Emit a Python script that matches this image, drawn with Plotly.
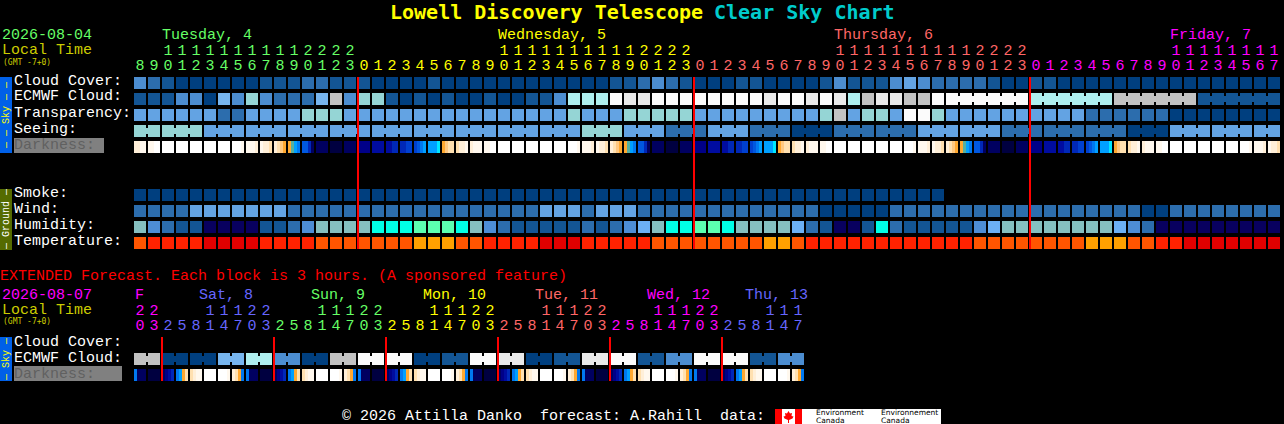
import plotly.graph_objects as go

# forecast hours, one per column
hours = [8, 9, 10, 11, 12, 13, 14, 15, 16, 17, 18, 19, 20, 21, 22, 23,
         0, 1, 2, 3, 4, 5, 6, 7, 8, 9, 10, 11, 12, 13, 14, 15, 16, 17, 18, 19, 20, 21, 22, 23,
         0, 1, 2, 3, 4, 5, 6, 7, 8, 9, 10, 11, 12, 13, 14, 15, 16, 17, 18, 19, 20, 21, 22, 23,
         0, 1, 2, 3, 4, 5, 6, 7, 8, 9, 10, 11, 12, 13, 14, 15, 16, 17]
ext_hours = [20, 23, 2, 5, 8, 11, 14, 17, 20, 23, 2, 5, 8, 11, 14, 17, 20, 23, 2, 5, 8, 11, 14, 17,
             20, 23, 2, 5, 8, 11, 14, 17, 20, 23, 2, 5, 8, 11, 14, 17, 20, 23, 2, 5, 8, 11, 14, 17]

# sky levels, index into sky_palette
cloud_cover = [3, 2, 1, 0, 0, 0, 0, 0, 0, 1, 1, 1, 2, 2, 1, 1,
               1, 0, 0, 0, 0, 1, 0, 0, 0, 0, 0, 0, 0, 0, 0, 0, 0, 0, 1, 1, 2, 3, 2, 1,
               0, 0, 0, 1, 1, 0, 0, 0, 0, 1, 3, 1, 1, 1, 3, 4, 3, 2, 2, 2, 2, 1, 0, 0,
               1, 1, 0, 0, 0, 0, 0, 0, 0, 0, 0, 0, 0, 0, 0, 0, 0, 0]
ecmwf_cloud = [1, 1, 1, 3, 3, 0, 5, 3, 6, 3, 2, 2, 2, 5, 8, 3,
               6, 6, 1, 0, 1, 0, 1, 0, 0, 1, 0, 0, 1, 1, 3, 7, 7, 7, 10, 9, 9, 10, 10, 10,
               10, 10, 10, 10, 10, 9, 10, 10, 9, 10, 9, 7, 8, 9, 9, 8, 8, 10, 10, 10, 10, 10, 10, 10,
               7, 7, 7, 7, 7, 7, 8, 8, 8, 8, 8, 8, 1, 1, 1, 1, 1, 1]
transparency = [4, 4, 4, 4, 4, 4, 2, 2, 4, 4, 4, 4, 6, 6, 6, 4,
                4, 4, 4, 4, 4, 4, 4, 4, 4, 4, 4, 4, 4, 4, 4, 6, 4, 4, 4, 6, 6, 6, 6, 6,
                4, 4, 4, 4, 4, 4, 4, 4, 4, 6, 8, 4, 6, 6, 4, 10, 10, 6, 4, 4, 4, 4, 4, 4,
                4, 4, 4, 4, 2, 2, 2, 2, 2, 2, 0, 0, 0, 0, 0, 0, 0, 0]
seeing = [6, 6, 6, 6, 6, 4, 4, 4, 4, 4, 4, 4, 4, 4, 4, 4,
          4, 4, 4, 4, 4, 4, 4, 4, 4, 4, 4, 4, 4, 4, 4, 4, 6, 6, 6, 4, 4, 4, 2, 2,
          2, 4, 4, 4, 2, 2, 2, 0, 0, 0, 2, 2, 2, 2, 2, 2, 4, 4, 4, 4, 4, 4, 2, 2,
          2, 2, 2, 2, 2, 2, 2, 0, 0, 0, 4, 4, 4, 4, 4, 4, 4, 4]
smoke = [0, 0, 0, 0, 0, 0, 0, 0, 0, 0, 0, 0, 0, 0, 0, 0,
         0, 0, 0, 0, 0, 0, 0, 0, 0, 0, 0, 0, 0, 0, 0, 0, 0, 0, 0, 0, 0, 0, 0, 0,
         0, 0, 0, 0, 0, 0, 0, 0, 0, 0, 0, 0, 0, 0, 0, 0, 0, 0]
wind = [2, 2, 2, 2, 4, 4, 4, 4, 4, 4, 4, 2, 2, 2, 2, 2,
        2, 2, 2, 2, 2, 2, 2, 2, 2, 2, 2, 2, 2, 4, 4, 4, 2, 4, 4, 4, 2, 2, 2, 2,
        2, 2, 2, 2, 2, 2, 2, 2, 2, 0, 0, 0, 0, 0, 2, 2, 2, 2, 2, 2, 2, 2, 2, 2,
        2, 2, 2, 2, 2, 2, 2, 2, 0, 0, 2, 2, 2, 2, 2, 2, 2, 2]
humidity = [5, 3, 2, 1, 1, 0, 0, 0, 0, 1, 1, 2, 3, 5, 5, 5,
            5, 6, 6, 6, 7, 7, 7, 6, 5, 3, 2, 1, 1, 1, 1, 1, 2, 1, 2, 3, 4, 5, 6, 6,
            7, 7, 6, 5, 5, 5, 5, 4, 2, 1, 0, 0, 1, 6, 2, 1, 1, 1, 1, 1, 3, 4, 5, 5,
            5, 5, 5, 5, 5, 5, 4, 3, 2, 0, 0, 0, 0, 0, 0, 0, 0, 0]
temperature = [2, 1, 1, 1, 1, 0, 0, 0, 0, 1, 1, 1, 1, 2, 2, 2,
               2, 2, 2, 2, 3, 3, 3, 2, 2, 1, 1, 1, 1, 0, 0, 0, 1, 1, 1, 1, 1, 2, 2, 2,
               2, 2, 2, 2, 2, 3, 3, 2, 1, 1, 1, 1, 1, 1, 1, 1, 1, 1, 1, 1, 2, 2, 2, 2,
               2, 2, 2, 2, 3, 3, 3, 2, 2, 1, 1, 0, 0, 0, 0, 0, 0, 0]

# darkness, four readings across every block
darkness = [[2, 2, 1, 1], [1, 1, 0, 0], [0, 0, 0, 0], [0, 0, 0, 0], [0, 0, 0, 0], [0, 0, 0, 0], [0, 0, 0, 0], [0, 0, 0, 1],
            [1, 1, 1, 2], [1, 2, 2, 3], [2, 3, 4, 5], [5, 6, 8, 9], [10, 10, 12, 15], [15, 15, 15, 15], [16, 16, 16, 16], [15, 15, 15, 15],
            [14, 14, 14, 14], [13, 13, 13, 13], [13, 13, 12, 12], [12, 12, 11, 11], [11, 10, 9, 8], [8, 8, 8, 7], [5, 4, 3, 3], [3, 2, 2, 1],
            [2, 1, 1, 1], [1, 1, 0, 0], [0, 0, 0, 0], [0, 0, 0, 0], [0, 0, 0, 0], [0, 0, 0, 0], [0, 0, 0, 0], [0, 0, 0, 1],
            [1, 1, 1, 2], [1, 2, 2, 3], [2, 3, 4, 5], [5, 6, 8, 9], [10, 10, 12, 15], [15, 15, 15, 15], [16, 16, 16, 16], [15, 15, 15, 15],
            [14, 14, 14, 14], [13, 13, 13, 13], [13, 13, 12, 12], [12, 12, 11, 11], [11, 10, 9, 8], [8, 8, 8, 7], [5, 4, 3, 3], [3, 2, 2, 1],
            [2, 1, 1, 1], [1, 1, 0, 0], [0, 0, 0, 0], [0, 0, 0, 0], [0, 0, 0, 0], [0, 0, 0, 0], [0, 0, 0, 0], [0, 0, 0, 1],
            [1, 1, 1, 2], [1, 2, 2, 3], [2, 3, 4, 5], [5, 6, 8, 9], [10, 10, 12, 15], [15, 15, 15, 15], [16, 16, 16, 16], [15, 15, 15, 15],
            [14, 14, 14, 14], [13, 13, 13, 13], [13, 13, 12, 12], [12, 12, 11, 11], [11, 10, 9, 8], [8, 8, 8, 7], [5, 4, 3, 3], [3, 2, 2, 1],
            [2, 1, 1, 1], [1, 1, 0, 0], [0, 0, 0, 0], [0, 0, 0, 0], [0, 0, 0, 0], [0, 0, 0, 0], [0, 0, 0, 0], [0, 0, 0, 1],
            [1, 1, 1, 2], [1, 2, 2, 3]]

ext_ecmwf = [8, 8, 0, 0, 0, 0, 5, 5, 7, 7, 3, 3, 0, 0, 8, 8, 10, 10, 10, 10, 0, 0, 1, 1,
             10, 10, 9, 9, 0, 0, 1, 1, 9, 9, 10, 10, 1, 1, 3, 3, 10, 10, 10, 10, 1, 1, 3, 3]
ext_darkness = [[9, 15, 15, 15], [16, 16, 16, 16], [15, 14, 13, 12], [9, 8, 5, 3], [3, 2, 1, 1], [0, 0, 0, 0], [0, 0, 0, 1], [2, 3, 5, 9],
                [9, 15, 15, 15], [16, 16, 16, 16], [15, 14, 13, 12], [9, 8, 5, 3], [3, 2, 1, 1], [0, 0, 0, 0], [0, 0, 0, 1], [2, 3, 5, 9],
                [9, 15, 15, 15], [16, 16, 16, 16], [15, 14, 13, 12], [9, 8, 5, 3], [3, 2, 1, 1], [0, 0, 0, 0], [0, 0, 0, 1], [2, 3, 5, 9],
                [9, 15, 15, 15], [16, 16, 16, 16], [15, 14, 13, 12], [9, 8, 5, 3], [3, 2, 1, 1], [0, 0, 0, 0], [0, 0, 0, 1], [2, 3, 5, 9],
                [9, 15, 15, 15], [16, 16, 16, 16], [15, 14, 13, 12], [9, 8, 5, 3], [3, 2, 1, 1], [0, 0, 0, 0], [0, 0, 0, 1], [2, 3, 5, 9],
                [9, 15, 15, 15], [16, 16, 16, 16], [15, 14, 13, 12], [9, 8, 5, 3], [3, 2, 1, 1], [0, 0, 0, 0], [0, 0, 0, 1], [2, 3, 5, 9]]

row_names = ["Cloud Cover:", "ECMWF Cloud:", "Transparency:", "Seeing:", "Darkness:"]
ground_names = ["Smoke:", "Wind:", "Humidity:", "Temperature:"]
ext_names = ["Cloud Cover:", "ECMWF Cloud:", "Darkness:"]

# colours
sky_palette = ["#003f7f", "#135594", "#2c6dad", "#4c8dd0", "#63a3e3", "#77b5ee",
               "#95d5d5", "#aeeeee", "#c2c2c2", "#e9e9e9", "#fbfbfb"]
humidity_palette = ["#08005f", "#135594", "#2c6dad", "#4d8dd5", "#6cb0f5", "#85bfbf", "#00ffe6", "#5cffb0"]
temp_palette = ["#e00000", "#ff2200", "#ff5500", "#ffa000"]
dark_palette = ["#ffffff", "#fff8ee", "#ffefd8", "#ffe0b0", "#ffc880", "#ffa830", "#55b0a0", "#00e8ff", "#00a0ff",
                "#0078f0", "#0058e0", "#0040d0", "#0028b8", "#000ca0", "#000088", "#000060", "#000040"]
day_colors = ["#66ff66", "#ffff00", "#ff6666", "#ff00ff", "#6666ff"]
RED = "#ff0000"
TXT = "#cccc00"
MONO = "Liberation Mono"


def discrete(palette):
    n = len(palette)
    scale = []
    for i, c in enumerate(palette):
        scale.append([i / n, c])
        scale.append([(i + 1) / n, c])
    return scale


def px_x(x):
    return x / 1284


def px_y(y):
    return 1 - y / 424


def label(text, x, y, color="#ffffff", size=15, family=MONO, anchor="left", angle=0):
    fig.add_annotation(text=text, x=px_x(x), y=px_y(y), xref="paper", yref="paper", xanchor=anchor, yanchor="middle",
                       showarrow=False, borderpad=0, borderwidth=0, font=dict(family=family, size=size, color=color),
                       textangle=angle)


def box(x0, y0, x1, y1, color):
    fig.add_shape(type="rect", xref="paper", yref="paper", x0=px_x(x0), x1=px_x(x1), y0=px_y(y0), y1=px_y(y1),
                  fillcolor=color, line_width=0, layer="below")


def row_map(values, row, palette, xa, ya):
    fig.add_trace(go.Heatmap(z=[values], x=list(range(len(values))), y=[row], colorscale=discrete(palette),
                             zmin=-0.5, zmax=len(palette) - 0.5, xgap=2, ygap=4, showscale=False,
                             hoverinfo="skip", xaxis=xa, yaxis=ya))


def dark_map(values, row, xa, ya):
    # 3px steps inside each 12px block, an empty cell for the 2px gap
    edges = []
    z = []
    for i, block in enumerate(values):
        for k in range(5):
            edges.append(i - 0.5 + (1 + 3 * k) / 14)
        z.extend(block)
        if i < len(values) - 1:
            z.append(None)
    fig.add_trace(go.Heatmap(z=[z], x=edges, y=[row - 0.375, row + 0.375], colorscale=discrete(dark_palette),
                             zmin=-0.5, zmax=len(dark_palette) - 0.5, showscale=False,
                             hoverinfo="skip", xaxis=xa, yaxis=ya, hoverongaps=False))


def joins(values, groups, row, palette, xa, ya):
    # small bridge between the blocks of a merged period
    for first, last in groups:
        fig.add_trace(go.Scatter(x=[first, last], y=[row, row], mode="lines", hoverinfo="skip",
                                 line=dict(color=palette[values[first]], width=6), xaxis=xa, yaxis=ya))


def digits(hrs, colors, xa, ya, y_units, y_tens):
    x = list(range(len(hrs)))
    fig.add_trace(go.Scatter(x=x, y=[y_units] * len(hrs), text=[str(h % 10) for h in hrs], mode="text",
                             textfont=dict(family=MONO, size=15, color=colors), hoverinfo="skip", xaxis=xa, yaxis=ya))
    fig.add_trace(go.Scatter(x=x, y=[y_tens] * len(hrs), text=[str(h // 10) if h >= 10 else "" for h in hrs], mode="text",
                             textfont=dict(family=MONO, size=15, color=colors), hoverinfo="skip", xaxis=xa, yaxis=ya))


def day_color_list(hrs, start):
    colors = []
    d = start
    for i, h in enumerate(hrs):
        if i > 0 and h < hrs[i - 1]:
            d += 1
        colors.append(day_colors[d % len(day_colors)])
    return colors


def midnights(hrs, y0, y1, xa, ya):
    for i in range(1, len(hrs)):
        if hrs[i] < hrs[i - 1]:
            fig.add_shape(type="rect", xref=xa, yref=ya, xsizemode="pixel", xanchor=i - 0.5, x0=0, x1=2,
                          y0=y0, y1=y1, fillcolor=RED, line_width=0, layer="above")


fig = go.Figure()

# main forecast
row_map(cloud_cover, 0, sky_palette, "x", "y")
row_map(ecmwf_cloud, 1, sky_palette, "x", "y")
row_map(transparency, 2, sky_palette, "x", "y")
row_map(seeing, 3, sky_palette, "x", "y")
dark_map(darkness, 4, "x", "y")
row_map(smoke, 7, sky_palette, "x", "y")
row_map(wind, 8, sky_palette, "x", "y")
row_map(humidity, 9, humidity_palette, "x", "y")
row_map(temperature, 10, temp_palette, "x", "y")

joins(ecmwf_cloud, [(58, 63), (64, 69), (70, 75), (76, 81)], 1, sky_palette, "x", "y")
seeing_groups = [(0, 1)] + [(i, min(i + 2, 81)) for i in range(2, 82, 3)]
joins(seeing, seeing_groups, 3, sky_palette, "x", "y")
digits(hours, day_color_list(hours, 0), "x", "y", -1.0625, -2.0)
midnights(hours, -0.375, 10.375, "x", "y")

# extended forecast
row_map(ext_ecmwf, 1, sky_palette, "x2", "y2")
dark_map(ext_darkness, 2, "x2", "y2")
joins(ext_ecmwf, [(i, i + 1) for i in range(0, 48, 2)], 1, sky_palette, "x2", "y2")
digits(ext_hours, day_color_list(ext_hours, 3), "x2", "y2", -1.0625, -2.0)
midnights(ext_hours, -0.375, 2.375, "x2", "y2")

# side bars and grey label backgrounds
box(0, 77, 12, 153, "#0060e8")
box(0, 189, 12, 250, "#556b00")
box(0, 337, 12, 381, "#0060e8")
box(14, 138, 104, 153, "#808080")
box(14, 366, 122, 381, "#808080")

# title
label("<b>Lowell Discovery Telescope</b>", 390, 12, "#ffff00", 20, "DejaVu Sans Mono")
label("<b>Clear Sky Chart</b>", 714, 12, "#00cccc", 20, "DejaVu Sans Mono")

# header
label("2026-08-04", 2, 36, day_colors[0])
label("Local Time", 2, 51, TXT)
label("(GMT -7+0)", 3, 62, TXT, 8, "DejaVu Sans Mono")
for text, x, c in zip(["Tuesday, 4", "Wednesday, 5", "Thursday, 6", "Friday, 7"], [162, 498, 834, 1170], day_colors):
    label(text, x, 36, c)

for i, name in enumerate(row_names):
    label(name, 14, 81 + 16 * i, "#606060" if name == "Darkness:" else "#ffffff")
for i, name in enumerate(ground_names):
    label(name, 14, 193 + 16 * i)
label("— — Sky — —", 6, 115, "#ffff00", 10, angle=-90, anchor="center")
label("— Ground —", 6, 219, "#ffffff", 10, angle=-90, anchor="center")

# extended header
label("EXTENDED Forecast. Each block is 3 hours. (A sponsored feature)", 0, 276, RED)
label("2026-08-07", 2, 295, day_colors[3])
label("Local Time", 2, 310, TXT)
label("(GMT -7+0)", 3, 321, TXT, 8, "DejaVu Sans Mono")
ext_days = ["F", "Sat, 8", "Sun, 9", "Mon, 10", "Tue, 11", "Wed, 12", "Thu, 13"]
ext_colors = ["#ff00ff", "#6666ff", "#66ff66", "#ffff00", "#ff6666", "#ff00ff", "#6666ff"]
for text, x, c in zip(ext_days, [135, 199, 311, 423, 535, 647, 745], ext_colors):
    label(text, x, 295, c)
for i, name in enumerate(ext_names):
    label(name, 14, 342 + 16 * i, "#606060" if name == "Darkness:" else "#ffffff")
label("— Sky —", 6, 359, "#ffff00", 10, angle=-90, anchor="center")

# footer with the logo strip
label("©\u00a02026\u00a0Attilla\u00a0Danko\u00a0\u00a0forecast:\u00a0A.Rahill\u00a0\u00a0data:", 342, 416)
box(775, 409, 941, 424, "#ffffff")
box(775, 409, 782, 424, RED)
box(795, 409, 802, 424, RED)
leaf = [(788.5, 411), (790, 413.5), (792, 413), (791.5, 416), (793.5, 416.5), (792.5, 418.5), (789, 420),
        (789, 423), (788, 423), (788, 420), (784.5, 418.5), (783.5, 416.5), (785.5, 416), (785, 413), (787, 413.5)]
fig.add_shape(type="path", xref="paper", yref="paper", fillcolor=RED, line_width=0, layer="below",
              path="M " + " L ".join(f"{px_x(a):.5f},{px_y(b):.5f}" for a, b in leaf) + " Z")
label("Environment", 816, 412, "#000000", 7.5, "DejaVu Sans")
label("Canada", 816, 420.7, "#000000", 7.5, "DejaVu Sans")
label("Environnement", 881, 412, "#000000", 7.5, "DejaVu Sans")
label("Canada", 881, 420.7, "#000000", 7.5, "DejaVu Sans")

hidden = dict(visible=False, fixedrange=True)
fig.update_layout(
    width=1284, height=424, margin=dict(l=0, r=0, t=0, b=0),
    paper_bgcolor="#000000", plot_bgcolor="#000000", showlegend=False,
    xaxis=dict(domain=[px_x(133), px_x(1281)], range=[-0.5, 81.5], **hidden),
    yaxis=dict(domain=[px_y(251), px_y(27)], range=[10.5, -3.5], **hidden),
    xaxis2=dict(domain=[px_x(133), px_x(805)], range=[-0.5, 47.5], **hidden),
    yaxis2=dict(domain=[px_y(383), px_y(287)], range=[2.5, -3.5], **hidden),
)

fig.write_html("out.html", config={"displayModeBar": False},
               post_script="document.body.style.margin='0';document.body.style.overflow='hidden';")
